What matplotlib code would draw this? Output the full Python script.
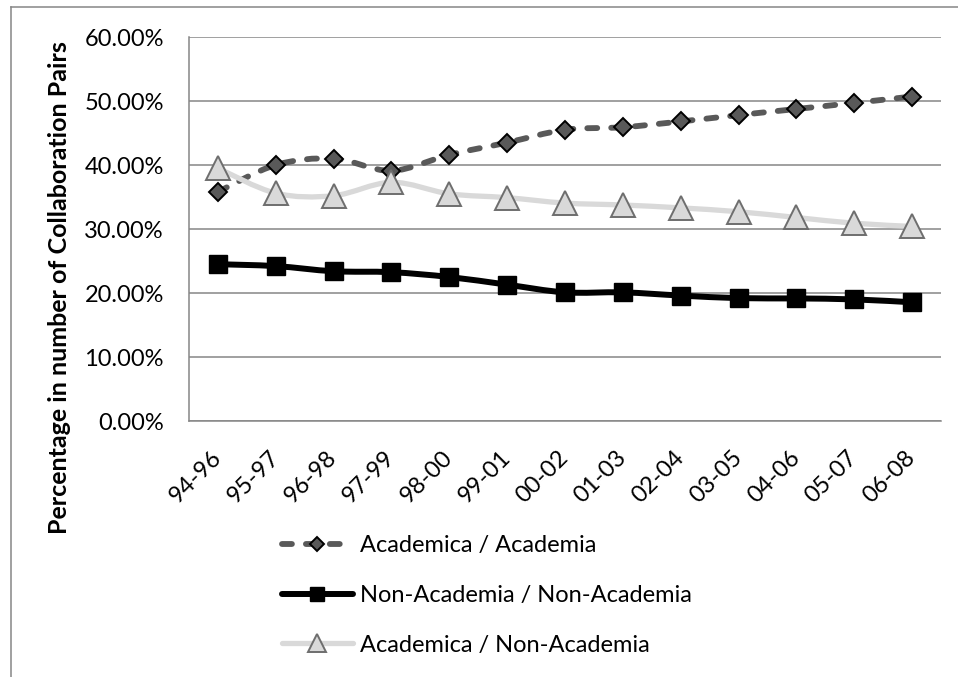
import numpy as np
import matplotlib
matplotlib.use("Agg")
import matplotlib.pyplot as plt
from matplotlib.path import Path
from matplotlib.patches import PathPatch
from matplotlib.lines import Line2D
from matplotlib.ticker import PercentFormatter

plt.rcParams['font.family'] = ['Lato', 'DejaVu Sans']

periods = ["94-96", "95-97", "96-98", "97-99", "98-00", "99-01", "00-02",
           "01-03", "02-04", "03-05", "04-06", "05-07", "06-08"]
acad_acad = [35.8, 40.0, 41.0, 39.1, 41.6, 43.5, 45.5, 45.9, 46.8, 47.8, 48.75, 49.7, 50.7]
nonacad_nonacad = [24.5, 24.2, 23.4, 23.25, 22.5, 21.3, 20.1, 20.1, 19.6, 19.2, 19.15, 19.0, 18.55]
acad_nonacad = [39.5, 35.6, 35.2, 37.3, 35.5, 34.9, 34.05, 33.75, 33.3, 32.7, 31.8, 30.9, 30.4]

labels = ["Academica / Academia", "Non-Academia / Non-Academia", "Academica / Non-Academia"]

FS = 17


def smooth_path(x, y):
    """Cubic Bezier path through the points (Catmull-Rom style tangents)."""
    x = np.asarray(x, float)
    y = np.asarray(y, float)
    n = len(x)
    verts = [(x[0], y[0])]
    codes = [Path.MOVETO]
    for i in range(n - 1):
        x0, y0 = (x[i - 1], y[i - 1]) if i > 0 else (x[i], y[i])
        x3, y3 = (x[i + 2], y[i + 2]) if i + 2 < n else (x[i + 1], y[i + 1])
        c1 = (x[i] + (x[i + 1] - x0) / 6.0, y[i] + (y[i + 1] - y0) / 6.0)
        c2 = (x[i + 1] - (x3 - x[i]) / 6.0, y[i + 1] - (y3 - y[i]) / 6.0)
        verts += [c1, c2, (x[i + 1], y[i + 1])]
        codes += [Path.CURVE4] * 3
    return Path(verts, codes)


W, H = 958, 677
fig = plt.figure(figsize=(W / 100, H / 100), dpi=100)
ax = fig.add_axes([189 / W, 1 - 421 / H, (941 - 189) / W, (421 - 37) / H])

xs = np.arange(len(periods))
ax.set_xlim(-0.5, len(periods) - 0.5)
ax.set_ylim(0, 60)
ax.set_yticks(np.arange(0, 61, 10))
ax.yaxis.set_major_formatter(PercentFormatter(decimals=2))
ax.grid(axis='y', color='#868686', linewidth=1.1)
ax.set_axisbelow(True)
for side in ['top', 'right']:
    ax.spines[side].set_visible(False)
for side in ['left', 'bottom']:
    ax.spines[side].set_color('#868686')
    ax.spines[side].set_linewidth(1.1)
ax.tick_params(axis='both', length=0, labelsize=FS, colors='black')
ax.tick_params(axis='y', pad=18)

series = [
    dict(y=acad_acad, color='#595959', lw=4.2, dash=(1.7, 2.4), marker='D', ms=9.6,
         mfc='#595959', mec='black', mew=1.4),
    dict(y=nonacad_nonacad, color='black', lw=4.3, dash=None, marker='s', ms=12.8,
         mfc='black', mec='black', mew=1.0),
    dict(y=acad_nonacad, color='#D9D9D9', lw=3.8, dash=None, marker='^', ms=17.5,
         mfc='#D9D9D9', mec='#6E6E6E', mew=1.4),
]

handles = []
for s, lab in zip(series, labels):
    patch = PathPatch(smooth_path(xs, s['y']), facecolor='none', edgecolor=s['color'],
                      linewidth=s['lw'], capstyle='round', joinstyle='round', zorder=3)
    if s['dash']:
        patch.set_linestyle((0, s['dash']))
    ax.add_patch(patch)
    ax.plot(xs, s['y'], linestyle='none', marker=s['marker'], ms=s['ms'],
            mfc=s['mfc'], mec=s['mec'], mew=s['mew'], zorder=4, clip_on=False)
    handles.append(Line2D([], [], color=s['color'], lw=s['lw'],
                          linestyle=(0, s['dash']) if s['dash'] else '-',
                          dash_capstyle='round', solid_capstyle='round',
                          marker=s['marker'], ms=s['ms'] * 0.75, mfc=s['mfc'],
                          mec=s['mec'], mew=s['mew']))

ax.set_xticks(xs)
ax.set_xticklabels(periods, rotation=45, ha='right', va='center',
                   rotation_mode='anchor')
ax.tick_params(axis='x', pad=24)

ax.set_ylabel("Percentage in number of Collaboration Pairs", fontsize=18,
              fontweight='bold', va='center')
ax.yaxis.set_label_coords(-(189 - 60) / (941 - 189), 1 - (288 - 37) / (421 - 37))

leg = fig.legend(handles, labels, loc='upper left', bbox_to_anchor=(282 / W, 1 - 535 / H),
                 frameon=False, fontsize=FS, handlelength=3.0, handletextpad=0.3,
                 labelspacing=1.22, borderaxespad=0, borderpad=0)

# outer chart border (left and top edges)
fig.add_artist(Line2D([10.5 / W, 10.5 / W], [0, 1 - 7 / H], color='#868686', lw=1.1,
                      transform=fig.transFigure))
fig.add_artist(Line2D([10.5 / W, 1], [1 - 7 / H, 1 - 7 / H], color='#868686', lw=1.1,
                      transform=fig.transFigure))

fig.savefig("out.png", dpi=100)
